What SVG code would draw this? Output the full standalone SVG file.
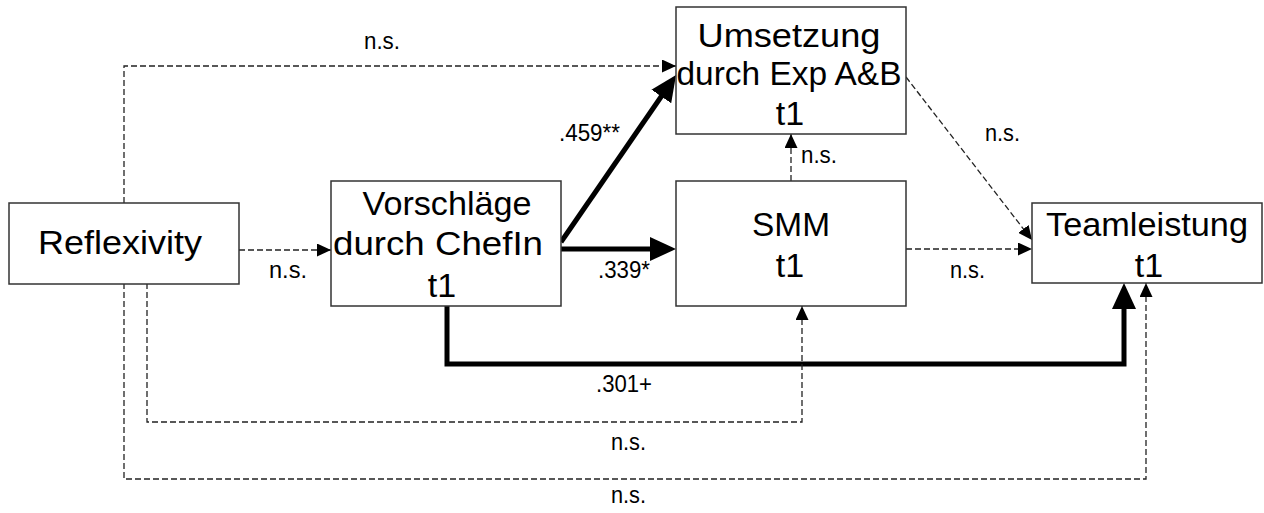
<svg xmlns="http://www.w3.org/2000/svg" width="1264" height="513" viewBox="0 0 1264 513">
<style>
.box{fill:#fff;stroke:#333;stroke-width:1.5}
.t{font-family:"Liberation Sans",Arial,sans-serif;font-size:34px;fill:#000;text-anchor:middle}
.l{font-family:"Liberation Sans",Arial,sans-serif;font-size:23px;fill:#000}
.d{fill:none;stroke:#222;stroke-width:1.3;stroke-dasharray:6 3}
.k{fill:none;stroke:#000;stroke-width:5}
</style>
<defs>
<marker id="sa" viewBox="0 0 14 13" markerWidth="14" markerHeight="13" markerUnits="userSpaceOnUse" refX="14" refY="6.5" orient="auto"><path d="M0,0 L14,6.5 L0,13 z" fill="#000"/></marker>
<marker id="ba" viewBox="0 0 26 24" markerWidth="26" markerHeight="24" markerUnits="userSpaceOnUse" refX="6" refY="12" orient="auto"><path d="M0,0 L26,12 L0,24 z" fill="#000"/></marker>
</defs>
<g id="connectors">
<path class="d" d="M124 203 V66 H676" marker-end="url(#sa)"/>
<path class="d" d="M239 250 H331" marker-end="url(#sa)"/>
<path class="k" d="M561 242 L664.7 91.5" marker-end="url(#ba)"/>
<path class="k" d="M561 249 H656" marker-end="url(#ba)"/>
<path class="d" d="M791 181 V134" marker-end="url(#sa)"/>
<path class="d" d="M906 77 L1032 240" marker-end="url(#sa)"/>
<path class="d" d="M906 249 H1032" marker-end="url(#sa)"/>
<path class="k" d="M447 306 V364 H1124 V303" marker-end="url(#ba)"/>
<path class="d" d="M147 283 V422 H802 V306" marker-end="url(#sa)"/>
<path class="d" d="M124 283 V479 H1146 V283" marker-end="url(#sa)"/>
</g>
<g id="labels">
<text class="l" x="364" y="49" textLength="36" lengthAdjust="spacingAndGlyphs">n.s.</text>
<text class="l" x="269" y="278" textLength="38" lengthAdjust="spacingAndGlyphs">n.s.</text>
<text class="l" x="559" y="141" textLength="61" lengthAdjust="spacingAndGlyphs">.459**</text>
<text class="l" x="598" y="278" textLength="52" lengthAdjust="spacingAndGlyphs">.339*</text>
<text class="l" x="801" y="163" textLength="36" lengthAdjust="spacingAndGlyphs">n.s.</text>
<text class="l" x="985" y="141" textLength="35" lengthAdjust="spacingAndGlyphs">n.s.</text>
<text class="l" x="950" y="278" textLength="35" lengthAdjust="spacingAndGlyphs">n.s.</text>
<text class="l" x="596" y="392" textLength="56" lengthAdjust="spacingAndGlyphs">.301+</text>
<text class="l" x="611" y="450" textLength="35" lengthAdjust="spacingAndGlyphs">n.s.</text>
<text class="l" x="611" y="503" textLength="35" lengthAdjust="spacingAndGlyphs">n.s.</text>
</g>
<g id="reflexivity">
<rect class="box" x="9" y="203" width="230" height="81"/>
<text class="t" x="120" y="254" textLength="164" lengthAdjust="spacingAndGlyphs">Reflexivity</text>
</g>
<g id="vorschlaege">
<rect class="box" x="331" y="181" width="230" height="125"/>
<text class="t" x="447" y="215" textLength="169" lengthAdjust="spacingAndGlyphs">Vorschläge</text>
<text class="t" x="438" y="255" textLength="210" lengthAdjust="spacingAndGlyphs">durch ChefIn</text>
<text class="t" x="442" y="297">t1</text>
</g>
<g id="umsetzung">
<rect class="box" x="676" y="7" width="230" height="127"/>
<text class="t" x="789" y="47" textLength="183" lengthAdjust="spacingAndGlyphs">Umsetzung</text>
<text class="t" x="789" y="85" textLength="225" lengthAdjust="spacingAndGlyphs">durch Exp A&amp;B</text>
<text class="t" x="790" y="125">t1</text>
</g>
<g id="smm">
<rect class="box" x="676" y="181" width="230" height="125"/>
<text class="t" x="791" y="236" textLength="78" lengthAdjust="spacingAndGlyphs">SMM</text>
<text class="t" x="790" y="277">t1</text>
</g>
<g id="teamleistung">
<rect class="box" x="1032" y="203" width="230" height="80"/>
<text class="t" x="1147" y="236" textLength="202" lengthAdjust="spacingAndGlyphs">Teamleistung</text>
<text class="t" x="1149" y="277">t1</text>
</g>
</svg>
